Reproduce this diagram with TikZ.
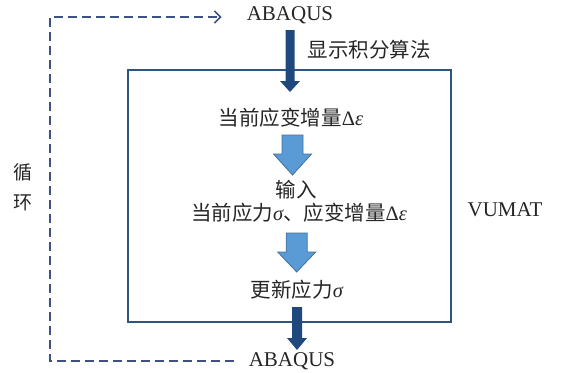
\documentclass[tikz,border=0pt]{standalone}
\usepackage{fontspec}
\setmainfont{Liberation Serif}
\newfontfamily\cjk{Noto Sans CJK SC}
\newfontfamily\grk{Liberation Serif}
\usetikzlibrary{calc,arrows.meta}
\definecolor{boxblue}{RGB}{46,84,128}
\definecolor{darkblue}{RGB}{31,73,125}
\definecolor{lightblue}{RGB}{91,155,213}
\definecolor{edgeblue}{RGB}{65,113,156}
\definecolor{loopblue}{RGB}{60,82,130}
\tikzstyle{txt}=[font=\fontsize{20.5}{24}\selectfont\cjk, text=black!85, inner sep=0pt]
\tikzstyle{latin}=[font=\fontsize{21}{24}\selectfont, text=black!85, inner sep=0pt]
\tikzstyle{darkarrow}=[fill=darkblue]
\tikzstyle{flowarrow}=[fill=lightblue, draw=edgeblue, line width=0.8pt]
\tikzstyle{loopline}=[draw=loopblue, line width=1.6pt, dash pattern=on 9pt off 5pt, -{Straight Barb[length=6pt,width=12pt]}]
\newcommand{\sig}{{\grk\itshape σ}}
\newcommand{\deps}{{\grk Δ\itshape ε}}
% block arrow pointing down: style, from, to, shaft half width, head half width, head length
\newcommand{\blockarrow}[6]{%
  \path[#1] let \p1=(#2), \p2=(#3) in
    (\x1-#4,\y1) -- (\x1+#4,\y1) -- (\x1+#4,\y2+#6) -- (\x1+#5,\y2+#6)
    -- (\x1,\y2) -- (\x1-#5,\y2+#6) -- (\x1-#4,\y2+#6) -- cycle;}

\begin{document}
\begin{tikzpicture}[x=1pt, y=-1pt]
		\useasboundingbox (0,0) rectangle (562,372);
		\begin{scope}
			\node (abqtop) at (290,15) [latin] {ABAQUS};
			\node (algo) at (369,50) [txt] {显示积分算法};
			\node (box) at (289.5,196) [draw=boxblue, line width=2.2pt, minimum width=323pt, minimum height=252pt] {};
			\node (strain) at (291,118) [txt] {当前应变增量\deps};
			\node (input) at (296,190) [txt] {输入};
			\node (current) at (299,213) [txt] {当前应力\sig、应变增量\deps};
			\node (update) at (297,290) [txt] {更新应力\sig};
			\node (abqbot) at (292,361) [latin] {ABAQUS};
			\node (vumat) at (505,210) [latin] {VUMAT};
			\node (loop) at (23,187) [txt, font=\fontsize{19}{30}\selectfont\cjk, align=center] {循\\环};
			\coordinate (corner1) at (50,361);
			\coordinate (corner2) at (50,17);
		\end{scope}
		\begin{scope}
			\blockarrow{darkarrow}{$(abqtop)+(0,15)$}{$(strain)+(0,-26)$}{4.5pt}{10pt}{11pt}
			\blockarrow{flowarrow}{$(strain)+(1.5,17)$}{$(input)+(0,-15)$}{10.5pt}{19pt}{21pt}
			\blockarrow{flowarrow}{$(input)+(0.7,43)$}{$(update)+(0,-18)$}{10.5pt}{19pt}{20pt}
			\blockarrow{darkarrow}{$(update)+(0,17)$}{$(abqbot)+(0,-11)$}{5pt}{10pt}{12pt}
			\draw[loopline] ($(abqbot.west)+(-15,0)$) -- (corner1) -- (corner2) -- ($(abqtop.west)+(-25,2)$);
		\end{scope}
\end{tikzpicture}
\end{document}
